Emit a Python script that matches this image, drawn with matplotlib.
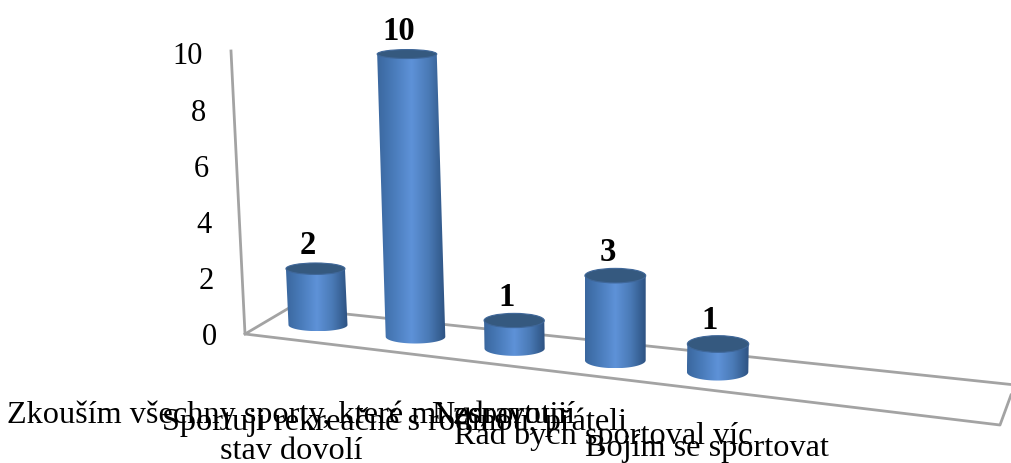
from matplotlib import pyplot as plt
from matplotlib.colors import LinearSegmentedColormap
from matplotlib.patches import Ellipse, PathPatch
from matplotlib.path import Path
import numpy as np

categories = [
    'Zkouším všechny sporty, které mi zdravotní\nstav dovolí',
    'Sportuji rekreačně s rodinou, přáteli',
    'Nesportuji',
    'Rád bych sportoval víc',
    'Bojím se sportovat',
]
values = [2, 10, 1, 3, 1]
y_ticks = [0, 2, 4, 6, 8, 10]

# baseline of the first line of each category label
label_baselines = [423, 430, 423, 444, 456]

AXIS_COLOR = '#a3a3a3'
SERIF = 'Liberation Serif'

body_cmap = LinearSegmentedColormap.from_list(
    'cyl', [(0, '#3a679e'), (0.25, '#4a7cbb'), (0.5, '#5e92d8'),
            (0.75, '#4a7ab6'), (0.92, '#365f92'), (1, '#2e5282')])


def base_point(i):
    # floor position of bar i, the spacing widens towards the viewer
    return 318 + 96.7 * i + 0.8 * i * i, 326 + 11.75 * i


def top_point(i, value):
    x, y = base_point(i)
    # verticals converge slightly as they go up
    return x + value * (x - 614) * 0.0043, y - (28.3 * value - 0.3)


def ellipse_ry(i, y):
    return 4 + 0.008 * (y - 55) + 0.5 * i


def draw_cylinder(ax, i, value):
    xb, yb = base_point(i)
    xt, yt = top_point(i, value)
    half = 29.5 + 0.3 * i
    ry_b = ellipse_ry(i, yb)
    ry_t = ellipse_ry(i, yt)

    # outline: down the left side, along the lower rim, back up the right
    t = np.linspace(np.pi, 0, 40)
    rim = np.column_stack([xb + half * np.cos(t), yb + ry_b * np.sin(t)])
    verts = np.vstack([[[xt - half, yt]], rim, [[xt + half, yt]], [[xt - half, yt]]])
    body = PathPatch(Path(verts), facecolor='none', edgecolor='none', zorder=3 + i)
    ax.add_patch(body)

    grad = np.linspace(0, 1, 256).reshape(1, -1)
    left = min(xb, xt) - half
    right = max(xb, xt) + half
    img = ax.imshow(grad, cmap=body_cmap, aspect='auto', interpolation='bilinear',
                    extent=(left, right, yb + ry_b, yt), zorder=3 + i)
    img.set_clip_path(body)

    cap = Ellipse((xt, yt), 2 * half, 2 * ry_t, facecolor='#35597f',
                  edgecolor='#3f6799', linewidth=0.8, zorder=3 + i)
    ax.add_patch(cap)

    ax.text(xt - 8, yt - 24, str(value), family=SERIF, fontsize=23.5, weight='bold',
            ha='center', va='center', zorder=10)


fig = plt.figure(figsize=(10.11, 4.64), dpi=100)
ax = fig.add_axes([0, 0, 1, 1])

# walls and floor of the 3D box
ax.plot([231, 245, 1000, 1011], [52, 335, 426, 396], color=AXIS_COLOR, lw=2, zorder=1)
ax.plot([245, 289, 1011], [335, 309, 385.5], color=AXIS_COLOR, lw=2, zorder=1)

for v in y_ticks:
    ax.text(217 - 1.4 * v, 338 - 28.1 * v, str(v), family=SERIF, fontsize=22,
            ha='right', va='center')

for i in range(len(values)):
    draw_cylinder(ax, i, values[i])

for i in range(len(categories)):
    lines = categories[i].split('\n')
    for n in range(len(lines)):
        ax.text(291 + 104 * i, label_baselines[i] + 36 * n, lines[n], family=SERIF,
                fontsize=23.2, ha='center', va='baseline', zorder=11)

ax.set_xlim(0, 1011)
ax.set_ylim(464, 0)
ax.axis('off')

fig.savefig('out.png', dpi=100)
